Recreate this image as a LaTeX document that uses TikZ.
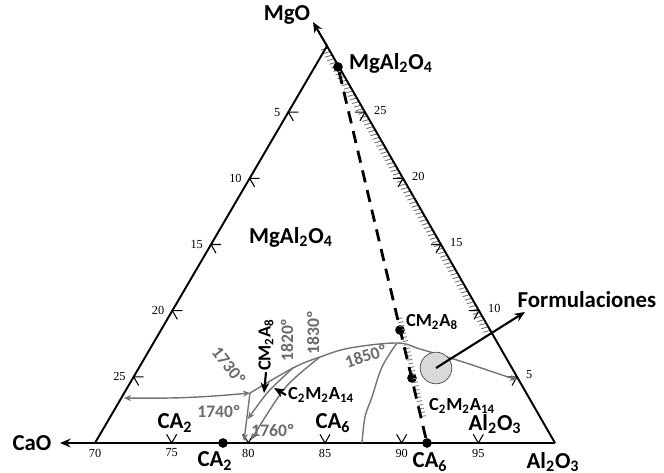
\documentclass[tikz,border=0pt]{standalone}
\usepackage{fontspec}
\setmainfont{Carlito}
\newfontfamily\numfont{Liberation Serif}
\usetikzlibrary{arrows.meta,calc}

\begin{document}
\begin{tikzpicture}[x=0.02cm, y=-0.02cm,
    lbl/.style={font=\bfseries\fontsize{13}{15}\selectfont},
    sml/.style={font=\bfseries\fontsize{10.5}{12}\selectfont, inner sep=1pt},
    temp/.style={font=\bfseries\fontsize{10}{12}\selectfont, text=black!58, inner sep=0.5pt},
    num/.style={font=\numfont\fontsize{7}{8}\selectfont, inner sep=1pt},
    pt/.style={circle, fill=black, inner sep=0pt, minimum size=5.5pt},
    bnd/.style={black!55, line width=0.8pt},
    tip/.style={-{Stealth[length=4pt,width=3.5pt]}},
    big/.style={line width=1.2pt, -{Stealth[length=6pt,width=5pt]}},
  ]
  \useasboundingbox (0,0) rectangle (664,473);

  % Corners
  \coordinate (A) at (95,443);
  \coordinate (B) at (555,443);
  \coordinate (C) at (327,46);

  % Hatching along the MgO - Al2O3 side
  \foreach \t in {0.005,0.014,...,0.73}
    \draw[black!55, line width=0.5pt] ($(C)!\t!(B)$) -- ++(-7,2);

  % Triangle
  \draw[line width=1.1pt] (B) -- (C) -- (A);
  \draw[line width=1.6pt] (A) -- (B);

  % Arrows to the oxides
  \coordinate (mgotip) at (313,22);
  \coordinate (caotip) at (60,443);
  \draw[big] (C) -- (mgotip);
  \draw[big] (A) -- (caotip);
  \node[lbl] (mgo) at (287,15) {MgO};
  \node[lbl] (cao) at (32,443) {CaO};

  % Ticks and numbers
  \foreach \i in {0,...,5} {
    \coordinate (b\i) at ($(A)!\i/6!(B)$);
    \coordinate (l\i) at ($(A)!\i/6!(C)$);
    \coordinate (r\i) at ($(C)!\i/6!(B)$);
    \pgfmathtruncatemacro{\bot}{70+5*\i}
    \node[num] at ($(b\i)+(0,10)$) {\bot};
  }
  \foreach \i in {1,...,5} {
    \pgfmathtruncatemacro{\side}{30-5*\i}
    \draw[line width=0.6pt] (b\i) ++(-120:10) -- (b\i) -- ++(-60:10);
    \draw[line width=0.6pt] (l\i) ++(0:10) -- (l\i) -- ++(60:10);
    \draw[line width=0.6pt] (r\i) ++(180:10) -- (r\i) -- ++(120:10);
    \node[num, anchor=east] at ($(l\i)+(-6,0)$) {\side};
    \node[num, anchor=west] at ($(r\i)+(7,-2)$) {\side};
  }

  % Phase boundaries
  \coordinate (j1) at (250,393);
  \coordinate (t1820) at (293,368);
  \coordinate (t1830) at (320,357);
  \coordinate (pk) at (397,343);
  \coordinate (e5) at (517,380);
  \coordinate (w25) at (124,398);
  \coordinate (d80) at (244,441);
  \coordinate (d1740) at (248,419);
  \coordinate (d1760) at (251,440);
  \coordinate (d85) at (362,443);
  \draw[bnd, tip] plot[smooth, tension=0.6] coordinates
    {(j1) (t1820) (t1830) (350,348) (pk) (420,349) (460,361) (490,371) (e5)};
  \draw[bnd] plot[smooth, tension=0.6] coordinates
    {(pk) (382,367) (372,397) (365,417) (d85)};
  \draw[bnd, {Stealth[length=4pt,width=3.5pt]}-{Stealth[length=4pt,width=3.5pt]}]
    (w25) to[bend right=3] (j1);
  \draw[bnd, tip] (j1) -- (d80);
  \draw[bnd, tip] plot[smooth] coordinates {(t1820) (268,392) (d1740)};
  \draw[bnd, tip] plot[smooth] coordinates {(t1830) (285,388) (d1760)};

  % Temperatures
  \node[temp, rotate=-52] (t1) at (229,366) {1730º};
  \node[temp, rotate=90] (t2) at (287,340) {1820º};
  \node[temp, rotate=90] (t3) at (313,333) {1830º};
  \node[temp, rotate=18] (t4) at (366,356) {1850º};
  \node[temp] (t5) at (219,411) {1740º};
  \node[temp] (t6) at (273,430) {1760º};

  % Compounds
  \node[pt] (sp) at (338,67) {};
  \node[pt] (cm) at (400,330) {};
  \node[pt] (cmm) at (412,378) {};
  \node[pt] (ca6) at (427,443) {};
  \node[pt] (ca2) at (223,443) {};

  % Join MgAl2O4 - CA6
  \foreach \t in {0.67,0.68,...,0.93}
    \draw[black!50, line width=0.5pt] ($(sp)!\t!(ca6)$) -- ++(5,-1);
  \draw[line width=1.6pt, dash pattern=on 7pt off 4.5pt] (sp) -- (ca6);

  % Labels
  \node[lbl, anchor=west] (splab) at (343,63) {MgAl\textsubscript{2}O\textsubscript{4}};
  \node[lbl] (field) at (291,237) {MgAl\textsubscript{2}O\textsubscript{4}};
  \node[sml, anchor=west] (cmlab) at (404,322) {CM\textsubscript{2}A\textsubscript{8}};
  \node[sml, anchor=west] (cmmlab) at (427,406) {C\textsubscript{2}M\textsubscript{2}A\textsubscript{14}};
  \node[lbl] (ca2up) at (175,423) {CA\textsubscript{2}};
  \node[lbl] (ca2dn) at (215,461) {CA\textsubscript{2}};
  \node[lbl] (ca6up) at (333,423) {CA\textsubscript{6}};
  \node[lbl] (ca6dn) at (430,462) {CA\textsubscript{6}};
  \node[lbl] (alup) at (495,424) {Al\textsubscript{2}O\textsubscript{3}};
  \node[lbl] (aldn) at (553,462) {Al\textsubscript{2}O\textsubscript{3}};

  % Pointers inside the diagram
  \coordinate (cmtip) at (264,393);
  \coordinate (cmmtip) at (274,388);
  \node[sml, rotate=90, inner sep=0.5pt] (cmvert) at (266,345) {CM\textsubscript{2}A\textsubscript{8}};
  \node[sml, anchor=west] (cmmmid) at (286,395) {C\textsubscript{2}M\textsubscript{2}A\textsubscript{14}};
  \draw[big] (cmvert.west) -- (cmtip);
  \draw[big] (cmmmid.west) -- (cmmtip);

  % Formulations
  \node[circle, draw=black!70, fill=black!15, minimum size=18pt, inner sep=0pt] (form) at (436,368) {};
  \node[lbl] (flab) at (587,300) {Formulaciones};
  \coordinate (fa) at (525,312);
  \draw[big] (form.center) -- (fa);
\end{tikzpicture}
\end{document}
